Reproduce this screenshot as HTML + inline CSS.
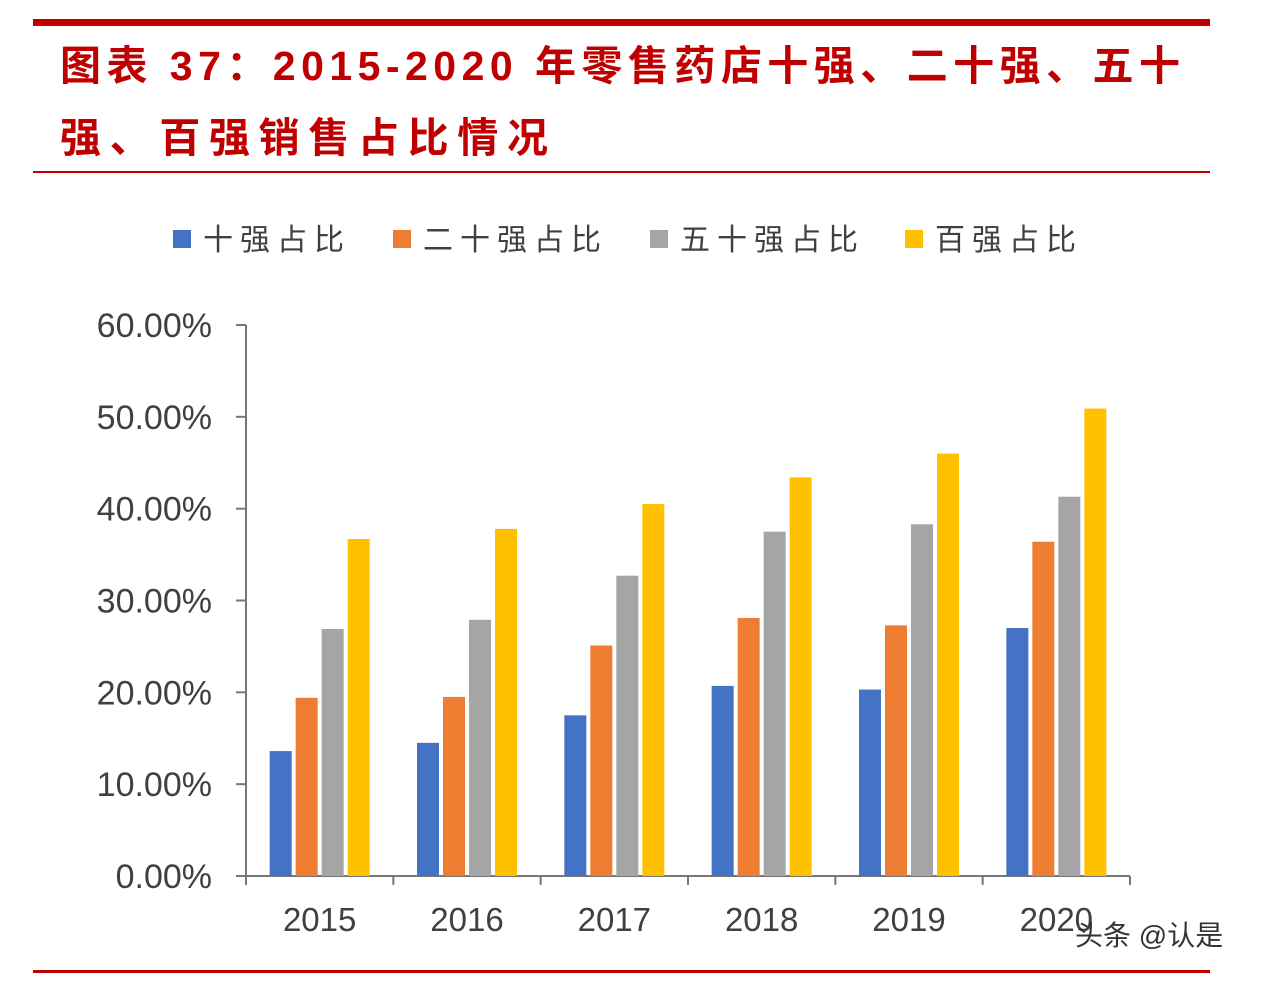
<!DOCTYPE html>
<html><head><meta charset="utf-8">
<style>
body{margin:0;background:#fff;width:1272px;height:978px;overflow:hidden;font-family:"Liberation Sans","Noto Sans CJK SC",sans-serif;}
</style></head>
<body>
<svg width="1272" height="978" xmlns="http://www.w3.org/2000/svg" id="chart">
<rect x="33" y="19" width="1177" height="7" fill="#c00000"/>
<text x="60" y="80" font-size="41" font-weight="bold" fill="#c00000" textLength="1120" lengthAdjust="spacing" font-family="'Liberation Sans','Noto Sans CJK SC',sans-serif">图表 37：2015-2020 年零售药店十强、二十强、五十</text>
<text x="60" y="152" font-size="41" font-weight="bold" fill="#c00000" textLength="488" lengthAdjust="spacing" font-family="'Liberation Sans','Noto Sans CJK SC',sans-serif">强、百强销售占比情况</text>
<rect x="33" y="171" width="1177" height="2" fill="#c00000"/>
<rect x="33" y="970" width="1177" height="3" fill="#c00000"/>
<g id="legend"></g>
<g id="axes"></g>
<g id="bars"></g>
<text x="1075" y="945" font-size="28" fill="#333" font-family="'Liberation Sans','Noto Sans CJK SC',sans-serif">头条 @认是</text>
</svg>
<script>
const categories=["2015","2016","2017","2018","2019","2020"];
const seriesNames=["十强占比","二十强占比","五十强占比","百强占比"];
const top10=[13.6,14.5,17.5,20.7,20.3,27.0];
const top20=[19.4,19.5,25.1,28.1,27.3,36.4];
const top50=[26.9,27.9,32.7,37.5,38.3,41.3];
const top100=[36.7,37.8,40.5,43.4,46.0,50.9];
const yTicks=[0,10,20,30,40,50,60];
const yTickLabels=["0.00%","10.00%","20.00%","30.00%","40.00%","50.00%","60.00%"];
const colors=["#4472c4","#ed7d31","#a5a5a5","#ffc000"];
const NS="http://www.w3.org/2000/svg";
const x0=246,x1=1130,y0=876,yTop=325;
const yScale=v=>y0-(v/60)*(y0-yTop);
const bandW=(x1-x0)/categories.length;
function mk(tag,attrs,parent){const e=document.createElementNS(NS,tag);for(const k in attrs)e.setAttribute(k,attrs[k]);parent.appendChild(e);return e;}
const axes=document.getElementById('axes');
let yl=mk('line',{x1:x0,y1:yTop,x2:x0,y2:y0,stroke:'#777','stroke-width':2},axes);


let xl=mk('line',{x1:x0,y1:y0,x2:x1,y2:y0,stroke:'#777','stroke-width':2},axes);


yTicks.forEach((t,i)=>{
 const y=yScale(t);
 mk('line',{x1:x0-10,y1:y,x2:x0,y2:y,stroke:'#777','stroke-width':2},axes);
 const tx=mk('text',{x:212,y:y+12,'font-size':34,'text-anchor':'end',fill:'#404040'},axes);
 tx.textContent=yTickLabels[i];
 
 
});
for(let i=0;i<=categories.length;i++){const x=x0+i*bandW;mk('line',{x1:x,y1:y0,x2:x,y2:y0+9,stroke:'#777','stroke-width':2},axes);}
categories.forEach((c,i)=>{
 const tx=mk('text',{x:x0+(i+0.5)*bandW,y:931,'font-size':33,'text-anchor':'middle',fill:'#404040'},axes);
 tx.textContent=c;
 
 
});
const bars=document.getElementById('bars');
const series=[top10,top20,top50,top100];
const bw=22,gap=4;
series.forEach((s,si)=>{
 s.forEach((v,i)=>{
  const cx=x0+(i+0.5)*bandW;
  const x=cx-(4*bw+3*gap)/2+si*(bw+gap);
  const r=mk('rect',{x:x,y:yScale(v),width:bw,height:y0-yScale(v),fill:colors[si]},bars);
  
  
 });
});
const legend=document.getElementById('legend');
const lx=[173,393,650,905];
seriesNames.forEach((n,i)=>{
 const r=mk('rect',{x:lx[i],y:230,width:18,height:18,fill:colors[i]},legend);
 
 
 const t=mk('text',{x:lx[i]+30,y:250,'font-size':30,fill:'#404040','letter-spacing':'7'},legend);
 t.textContent=n;
 
 
});
</script>
</body></html>
